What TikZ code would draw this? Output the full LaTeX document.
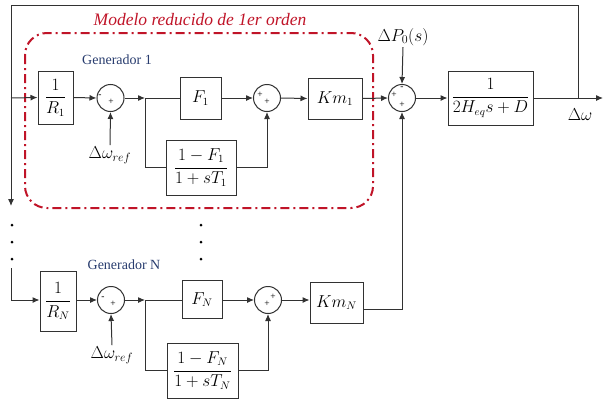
\documentclass[tikz,border=0pt]{standalone}
\usepackage{fontspec}
\setmainfont{Liberation Serif}
\usetikzlibrary{arrows.meta}
\definecolor{redm}{RGB}{192,20,40}
\definecolor{genblue}{RGB}{40,60,110}
\definecolor{ln}{RGB}{50,50,50}
\begin{document}
\begin{tikzpicture}[x=1pt,y=-1pt,
  line width=1pt, color=ln,
  blk/.style={draw=ln, line width=1pt, rectangle, inner sep=0pt, text=black, font=\fontsize{16}{18}\selectfont},
  sumc/.style={draw=ln, line width=1pt, circle, minimum size=27pt, inner sep=0pt},
  arr/.style={-{Latex[length=7pt,width=6pt]}},
  sg/.style={font=\fontsize{9.5}{10}\selectfont, text=black, inner sep=0pt},
  lbl/.style={font=\fontsize{17}{19}\selectfont, text=black, inner sep=1pt},
  gen/.style={font=\fontsize{14}{16}\selectfont, text=genblue, inner sep=0pt},
  dotm/.style={fill=black, draw=none, circle, inner sep=0pt, minimum size=3pt},
]
\useasboundingbox (0,0) rectangle (603,399);

% red region
\draw[draw=redm, line width=2pt, rounded corners=22pt,
  dash pattern=on 9pt off 4pt on 2pt off 4pt] (25,33) rectangle (373,208);
\node[font=\fontsize{17.5}{20}\selectfont\itshape, text=redm, inner sep=0pt] (title) at (200,20) {Modelo reducido de 1er orden};

% Generator 1
\node[gen] (g1lab) at (117,60) {Generador 1};
\node[blk, minimum width=35pt, minimum height=53pt] (R1) at (55.5,97.5) {$\displaystyle\frac{1}{R_1}$};
\node[sumc] (s11) at (110.5,98) {};
\node[sg] (s11a) at (100,96) {-};
\node[sg] (s11b) at (111,102) {+};
\node[lbl] (w1) at (110,155) {$\Delta\omega_{ref}$};
\coordinate (b1) at (145,98);
\node[blk, minimum width=41pt, minimum height=42pt] (F1) at (200.5,98) {$F_1$};
\node[sumc] (s12) at (267,98) {};
\node[sg] (s12a) at (260,95) {+};
\node[sg] (s12b) at (267,102) {+};
\node[blk, minimum width=70pt, minimum height=55pt] (G1) at (201,167.5) {$\displaystyle\frac{1-F_1}{1+sT_1}$};
\node[blk, minimum width=54pt, minimum height=41pt] (Km1) at (335,98.5) {$Km_1$};

% Common part
\node[sumc] (s3) at (402,98) {};
\node[sg] (s3a) at (402,88) {-};
\node[sg] (s3b) at (394,95) {+};
\node[sg] (s3c) at (402,105) {+};
\node[lbl] (p0) at (403,37) {$\Delta P_0(s)$};
\node[blk, minimum width=85pt, minimum height=54pt] (P) at (490.5,98) {$\displaystyle\frac{1}{2H_{eq}s+D}$};
\coordinate (out) at (603,98);
\coordinate (fb) at (578,98);
\node[lbl] (dw) at (580,115) {$\Delta\omega$};
\coordinate (tr) at (578,5);
\coordinate (tl) at (11,5);
\coordinate (ldown) at (11,206);
\coordinate (l1) at (11,98);

% Generator N
\node[gen] (gnlab) at (124,265) {Generador N};
\coordinate (lN0) at (11,268);
\coordinate (lN) at (11,300);
\node[blk, minimum width=36pt, minimum height=60pt] (RN) at (58,301) {$\displaystyle\frac{1}{R_N}$};
\node[sumc] (sN1) at (111,300) {};
\node[sg] (sN1a) at (103,298) {-};
\node[sg] (sN1b) at (113,304) {+};
\node[lbl] (wN) at (112,355) {$\Delta\omega_{ref}$};
\coordinate (bN) at (145,300);
\node[blk, minimum width=40pt, minimum height=38pt] (FN) at (202,299.5) {$F_N$};
\node[sumc] (sN2) at (268,300) {};
\node[sg] (sN2a) at (273,297) {+};
\node[sg] (sN2b) at (267,304) {+};
\node[blk, minimum width=71pt, minimum height=55pt] (GN) at (202.5,370.5) {$\displaystyle\frac{1-F_N}{1+sT_N}$};
\node[blk, minimum width=53pt, minimum height=41pt] (KmN) at (336.5,302.5) {$Km_N$};

% dots
\foreach \yy [count=\i] in {225,242,259} {
  \node[dotm] (dl\i) at (12,\yy) {};
  \node[dotm] (dm\i) at (201,\yy) {};
}

% connectors gen 1
\draw[arr] (l1) -- (R1.west);
\draw[arr] (R1.east) -- (s11.west);
\draw[arr] (w1.north) -- (s11.south);
\draw[arr] (s11.east) -- (b1);
\draw (b1) -- (F1.west);
\draw[arr] (F1.east) -- (s12.west);
\draw (b1) |- (G1.west);
\draw[arr] (G1.east) -| (s12.south);
\draw[arr] (s12.east) -- (Km1.west);
\draw[arr] (Km1.east) -- (s3.west);

% common
\draw[arr] (p0.south) -- (s3.north);
\draw[arr] (s3.east) -- (P.west);
\draw[arr] (P.east) -- (out);
\draw (fb) -- (tr) -- (tl);
\draw[arr] (tl) -- (ldown);

% connectors gen N
\draw[arr] (lN0) -- (lN) -- ([yshift=1pt]RN.west);
\draw[arr] (RN.east |- sN1.west) -- (sN1.west);
\draw[arr] (wN.north) -- (sN1.south);
\draw[arr] (sN1.east) -- (bN);
\draw (bN) -- (FN.west |- bN);
\draw[arr] (FN.east |- sN2.west) -- (sN2.west);
\draw (bN) |- (GN.west);
\draw[arr] (GN.east) -| (sN2.south);
\draw[arr] (sN2.east) -- (KmN.west |- sN2.east);
\draw[arr] ([yshift=-7pt]KmN.east) -| (s3.south);
\end{tikzpicture}
\end{document}
